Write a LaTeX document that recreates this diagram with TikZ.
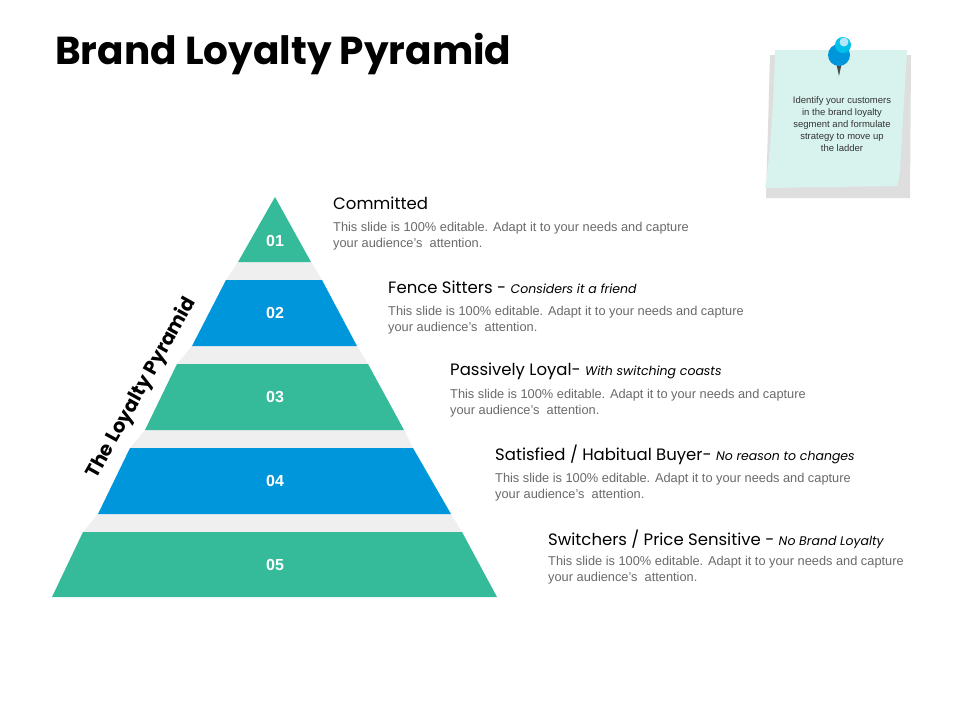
\documentclass[tikz,border=0pt]{standalone}
\usepackage{fontspec}
\setmainfont{Liberation Sans}
\newfontfamily\headf{Poppins}
\begin{document}
\begin{tikzpicture}[x=1pt,y=-1pt]
\definecolor{grn}{HTML}{36BB9A}
\definecolor{blu}{HTML}{0096DB}
\definecolor{gap}{HTML}{EFEFEF}
\definecolor{bodyc}{HTML}{6A6A6A}
\definecolor{note}{HTML}{D8F3EE}
\tikzset{
 num/.style={text=white,font=\bfseries\fontsize{16}{18}\selectfont},
 head/.style={anchor=west,inner sep=0,font=\headf\fontsize{16.5}{19}\selectfont},
 body/.style={anchor=north west,inner sep=0,align=left,text=bodyc,font=\fontsize{12.8}{16}\selectfont},
}
\useasboundingbox (0,0) rectangle (960,720);
\fill[white] (0,0) rectangle (960,720);
\node[anchor=base west,inner sep=0,font=\headf\bfseries\fontsize{39}{42}\selectfont] (title) at (55,64) {Brand Loyalty Pyramid};
% gaps
\fill[gap] (238,262)--(311,262)--(322,280)--(226,280)--cycle;
\fill[gap] (192,346)--(357,346)--(368,364)--(177,364)--cycle;
\fill[gap] (145,430)--(404,430)--(413,448)--(130,448)--cycle;
\fill[gap] (98,514)--(451,514)--(462,532)--(83,532)--cycle;
% layers
\fill[grn] (275,197)--(311,262)--(238,262)--cycle;
\fill[blu] (226,280)--(322,280)--(357,346)--(192,346)--cycle;
\fill[grn] (177,364)--(368,364)--(404,430)--(145,430)--cycle;
\fill[blu] (130,448)--(413,448)--(451,514)--(98,514)--cycle;
\fill[grn] (83,532)--(462,532)--(497,597)--(52,597)--cycle;
\node[num] (n1) at (275,241) {01};
\node[num] (n2) at (275,313) {02};
\node[num] (n3) at (275,397) {03};
\node[num] (n4) at (275,481) {04};
\node[num] (n5) at (275,565) {05};
\node[rotate=60.9,font=\headf\bfseries\fontsize{19.5}{21}\selectfont] (side) at (142,388) {The Loyalty Pyramid};
% texts
\node[head] (h1) at (333,203) {Committed};
\node[body] (b1) at (333,222) {This slide is 100\% editable. Adapt it to your needs and capture\\your audience's\ \ attention.};
\node[head] (h2) at (388,287) {Fence Sitters - \textit{\fontsize{12.5}{15}\selectfont Considers it a friend}};
\node[body] (b2) at (388,306) {This slide is 100\% editable. Adapt it to your needs and capture\\your audience's\ \ attention.};
\node[head] (h3) at (450,371) {Passively Loyal- \textit{\fontsize{12.5}{15}\selectfont With switching coasts}};
\node[body] (b3) at (450,389) {This slide is 100\% editable. Adapt it to your needs and capture\\your audience's\ \ attention.};
\node[head] (h4) at (495,455) {Satisfied / Habitual Buyer- \textit{\fontsize{12.5}{15}\selectfont No reason to changes}};
\node[body] (b4) at (495,473) {This slide is 100\% editable. Adapt it to your needs and capture\\your audience's\ \ attention.};
\node[head] (h5) at (548,539) {Switchers / Price Sensitive - \textit{\fontsize{12.5}{15}\selectfont No Brand Loyalty}};
\node[body] (b5) at (548,556) {This slide is 100\% editable. Adapt it to your needs and capture\\your audience's\ \ attention.};
% sticky note
\fill[gap!85!gray] (770,55)--(911,55)--(910,198)--(766,198)--cycle;
\fill[note] (775,50)--(907,50)--(900,170) .. controls (899,180) and (898,184) .. (897,186)--(765,188) .. controls (770,160) and (774,100) .. (775,50)--cycle;
\fill[black!70] (836,62)--(839,76)--(842,62)--cycle;
\fill[blu] (839,55) circle (11);
\fill[blu!60!cyan] (843,45) circle (8);
\fill[white!70!cyan] (844,42) circle (4.5);
\node[align=center,font=\fontsize{9.5}{12}\selectfont,text=black!80] (nt) at (842,124) {Identify your customers\\in the brand loyalty\\segment and formulate\\strategy to move up\\the ladder};
\end{tikzpicture}
\end{document}
